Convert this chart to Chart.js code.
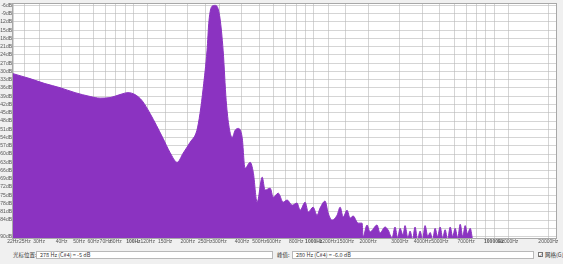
<!DOCTYPE html>
<html><head><meta charset="utf-8">
<script src="https://cdn.jsdelivr.net/npm/chart.js@4.4.0/dist/chart.umd.min.js"></script>
<style>
html,body{margin:0;padding:0;background:#f0f0f0;width:563px;height:264px;overflow:hidden;font-family:"Noto Sans CJK SC","Liberation Sans",sans-serif;}
#wrap{position:absolute;left:0;top:0;width:563px;height:246px;}
#status{position:absolute;left:0;top:246px;width:563px;height:18px;font-size:5.5px;color:#333;}
.lbl{position:absolute;top:5px;line-height:8px;white-space:nowrap;}
.box{position:absolute;top:5px;height:8px;background:#fff;border:1px solid #b8b8b8;line-height:6px;padding-left:3px;box-sizing:border-box;white-space:nowrap;}
.chk{position:absolute;top:6px;width:5px;height:5px;border:1px solid #777;background:#fff;box-sizing:border-box;font-size:5px;line-height:3px;text-align:center;}
</style></head>
<body>
<div id="wrap"><canvas id="c" width="563" height="246"></canvas></div>
<div id="status">
  <div class="lbl" style="left:13px">光标位置:</div>
  <div class="box" id="cursorBox" style="left:36px;width:237px"></div>
  <div class="lbl" style="left:277px">峰值:</div>
  <div class="box" id="peakBox" style="left:292px;width:242px"></div>
  <div class="chk" style="left:538px">✓</div>
  <div class="lbl" style="left:545px">网格(G)</div>
</div>
<script>
// ---- data ----
const freqs = [21.5,26.7,32.3,39.2,47.5,57.6,65.4,74.2,84.3,93.4,102,111.7,123.8,146,159.5,175,188.7,206,225,234,244,256,262.5,273,283.5,290.6,302,314.6,327,339.5,353,366.5,381,401,416,444,462,485.5,518,537,573.6,596,635.6,676.7,712,759,808,840.5,896,932,992,1043,1085,1156,1202,1264,1348,1401,1456,1530,1591,1653,1763,1854,1879,1974,2053,2244,2331,2486,2584,2719,2823,2921,3011,3126,3208,3328,3422,3533,3646,3765,3889,4010,4144,4292,4420,4568,4710,4860,5023,5187,5353,5528,5710,5896,6083,6287,6489,6705,6914,7126,7374,7635,7850,22050];
const levels = [-30.8,-32.6,-34.4,-35.9,-37.7,-39.1,-39.7,-39.5,-38.4,-37.7,-38.4,-40.6,-45.3,-54.3,-59.4,-63.0,-59.7,-55.8,-51.4,-45.3,-35.9,-22.5,-11.6,-6.3,-6.0,-6.3,-10.6,-22.5,-40.6,-50.3,-54.0,-51.4,-50.7,-54.0,-65.2,-63.0,-66.6,-77.5,-68.4,-73.1,-72.4,-75.7,-74.2,-77.5,-76.7,-78.6,-77.8,-80.4,-77.5,-81.1,-79.3,-82.2,-79.6,-77.1,-81.4,-84.0,-82.2,-79.3,-82.9,-80.4,-83.3,-82.5,-85.1,-85.1,-90.1,-85.8,-88.3,-85.8,-88.7,-86.5,-87.6,-90.5,-86.5,-90.5,-87,-89.5,-86,-90.5,-88,-91,-86.5,-91,-88,-91,-86,-90,-88.5,-91,-87,-90,-86.5,-90.5,-87.5,-91,-86.5,-90,-87,-90.5,-85.5,-90,-86,-89,-87,-92,-95,-100];
const xGridFreqs = [21.5,25,30,40,50,60,70,80,90,100,120,150,200,250,300,400,500,600,700,800,900,1000,1200,1500,2000,3000,4000,5000,6000,7000,8000,9000,10000,12000,20000];
const xLabelFreqs = [21.5,25,30,40,50,60,70,80,100,120,150,200,250,300,400,500,600,800,1000,1200,1500,2000,3000,4000,5000,7000,10000,12000,20000];
const xLabelTexts = ['22Hz','25Hz','30Hz','40Hz','50Hz','60Hz','70Hz','80Hz','100Hz','120Hz','150Hz','200Hz','250Hz','300Hz','400Hz','500Hz','600Hz','800Hz','1000Hz','1200Hz','1500Hz','2000Hz','3000Hz','4000Hz','5000Hz','7000Hz','10000Hz','12000Hz','20000Hz'];
const xMajorFreqs = [100,1000,10000];
const yTickValues = [-6,-9,-12,-15,-18,-21,-24,-27,-30,-33,-36,-39,-42,-45,-48,-51,-54,-57,-60,-63,-66,-69,-72,-75,-78,-81,-84,-87,-90];
const yTickLabels = ['-6dB','-9dB','-12dB','-15dB','-18dB','-21dB','-24dB','-27dB','-30dB','-33dB','-36dB','-39dB','-42dB','-45dB','-48dB','-51dB','-54dB','-57dB','-60dB','-63dB','-66dB','-69dB','-72dB','-75dB','-78dB','-81dB','-84dB','','-90dB'];
const cursorLineFreq = 300;
const cursorLineTop = -10;
const cursorText = '278 Hz (C#4) = -5 dB';
const peakText = '280 Hz (C#4) = -6.0 dB';
const freqMin = 21.5, freqMax = 22050, dbMin = -90.5, dbMax = -5.5;

document.getElementById('cursorBox').textContent = cursorText;
document.getElementById('peakBox').textContent = peakText;

const frame = {
  id:'frame',
  beforeDraw(chart){
    const {ctx, chartArea:a} = chart;
    ctx.save(); ctx.fillStyle='#ffffff';
    ctx.fillRect(a.left,a.top,a.right-a.left,a.bottom-a.top); ctx.restore();
  },
  afterDraw(chart){
    const {ctx, chartArea:a} = chart;
    ctx.save(); ctx.strokeStyle='#a8a8a8'; ctx.lineWidth=1;
    ctx.strokeRect(Math.round(a.left)-0.5,Math.round(a.top)-0.5,Math.round(a.right-a.left)+1,Math.round(a.bottom-a.top)+1);
    ctx.restore();
  }
};

const gridColor = 'rgba(185,185,185,0.6)';
new Chart(document.getElementById('c'), {
  type:'line',
  data:{datasets:[
    {data:freqs.map((f,i)=>({x:f,y:levels[i]})), fill:'start', backgroundColor:'#8b33c1', borderColor:'#8b33c1', borderWidth:1, pointRadius:0, cubicInterpolationMode:'monotone'},
    {data:[{x:cursorLineFreq,y:dbMin},{x:cursorLineFreq,y:cursorLineTop}], fill:false, borderColor:'rgba(215,40,90,0.75)', borderWidth:1, pointRadius:0}
  ]},
  options:{
    responsive:false, animation:false, events:[],
    layout:{padding:{top:3,right:7,left:0,bottom:0}},
    plugins:{legend:{display:false},tooltip:{enabled:false}},
    scales:{
      x:{type:'logarithmic', min:freqMin, max:freqMax, z:1,
        afterBuildTicks(s){ s.ticks = xGridFreqs.map(v=>({value:v})); },
        afterFit(s){ s.height = 8; },
        grid:{color:gridColor, drawTicks:false, lineWidth:1},
        border:{display:false},
        ticks:{autoSkip:false, maxRotation:0, padding:1, color:'#555',
          font:(ctx)=>({family:'Liberation Sans', size:5, weight:(ctx.tick && xMajorFreqs.includes(ctx.tick.value)) ? 'bold' : 'normal'}),
          callback(v){ const i = xLabelFreqs.indexOf(v); return i>=0 ? xLabelTexts[i] : ''; }}
      },
      y:{type:'linear', min:dbMin, max:dbMax, z:1,
        afterBuildTicks(s){ s.ticks = yTickValues.map(v=>({value:v})); },
        afterFit(s){ s.width = 13; },
        grid:{color:gridColor, drawTicks:false, lineWidth:1},
        border:{display:false},
        ticks:{autoSkip:false, padding:1, color:'#555', font:{family:'Liberation Sans', size:5},
          callback(v){ const i = yTickValues.indexOf(v); return i>=0 ? yTickLabels[i] : ''; }}
      }
    }
  },
  plugins:[frame]
});
</script>
</body></html>
